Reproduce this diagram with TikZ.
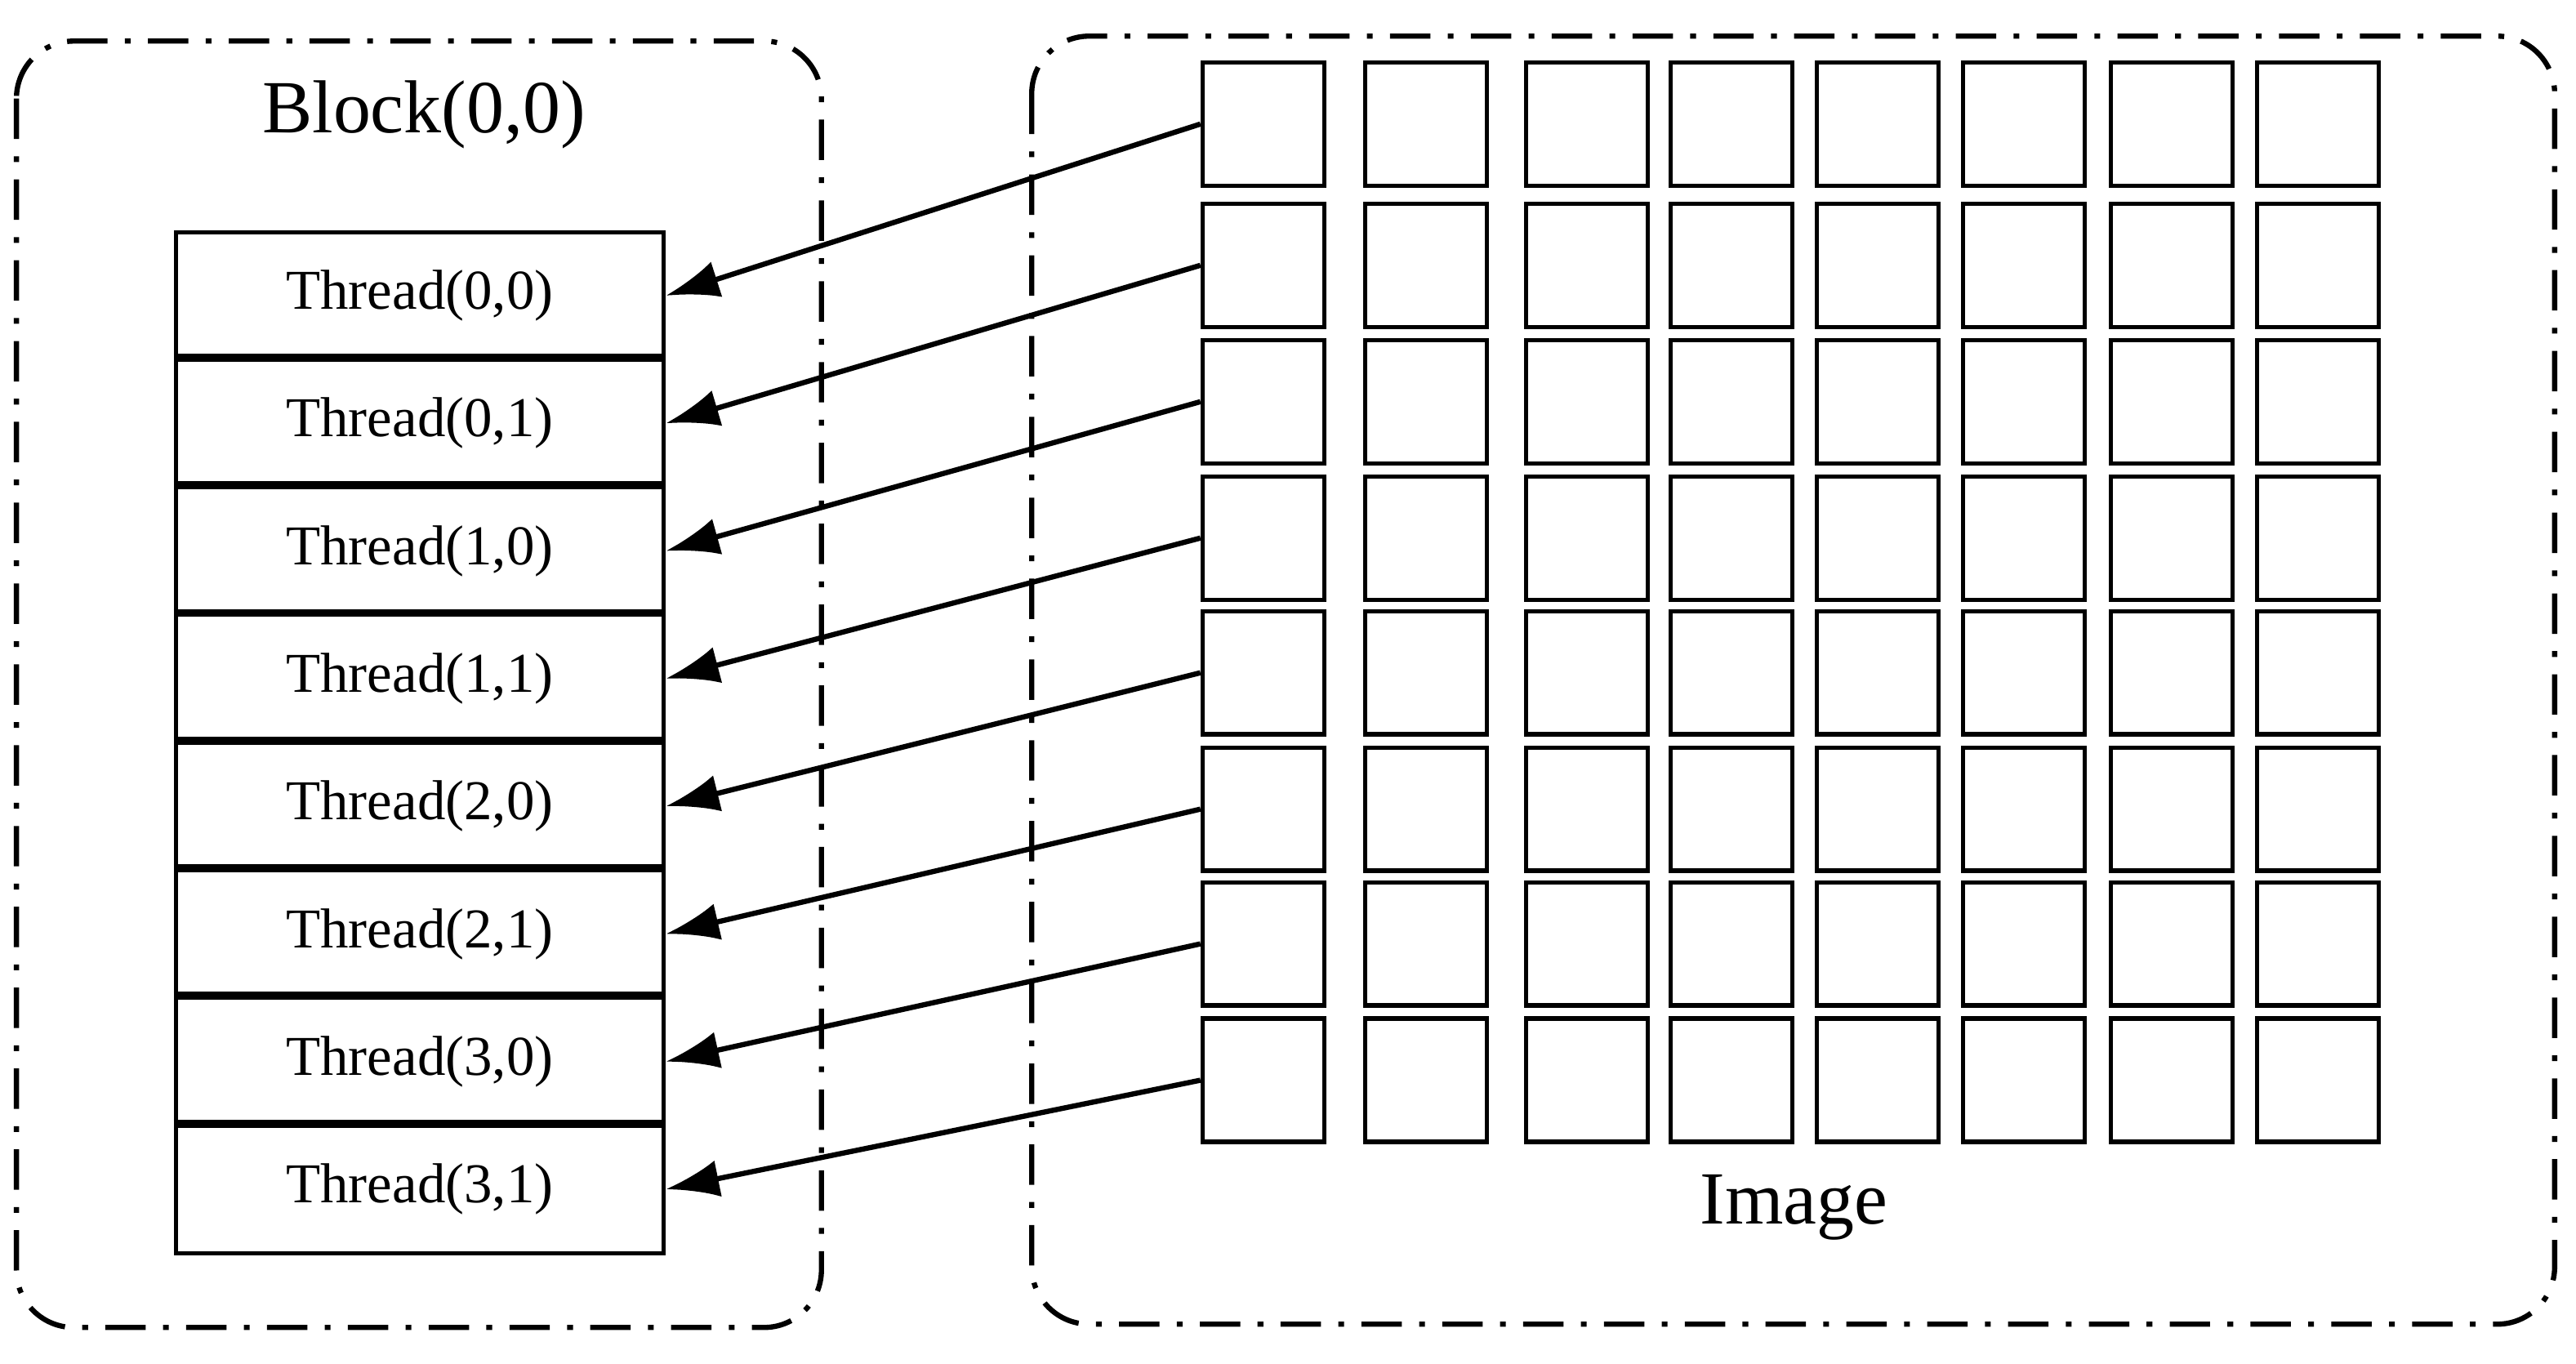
\documentclass[tikz,border=0pt]{standalone}
\usepackage{fontspec}
\setmainfont{Liberation Serif}
\usetikzlibrary{arrows.meta}
\begin{document}
\begin{tikzpicture}[x=0.02cm,y=-0.02cm,
  frame/.style={line width=1.8pt,rounded corners=0.7cm,dash pattern=on 14pt off 6pt on 2pt off 6pt},
  thr/.style={draw,line width=1.4pt,minimum width=5.94cm,minimum height=1.55cm,inner sep=0pt,font=\fontsize{19.5}{22}\selectfont},
  px/.style={draw,line width=1.5pt,minimum width=1.48cm,minimum height=1.5cm,inner sep=0pt},
  arr/.style={line width=1.8pt,-{Latex[length=0.65cm,width=0.45cm]}}]
\useasboundingbox (0,0) rectangle (1568,830);
\draw[frame] (10,25) rectangle (500,808);
\draw[frame] (628,22) rectangle (1555,806);
\node[font=\fontsize{26}{30}\selectfont] (blk) at (258,70) {Block(0,0)};
\node[font=\fontsize{26}{30}\selectfont] (img) at (1092,735) {Image};
\foreach \i/\t in {0/{(0,0)},1/{(0,1)},2/{(1,0)},3/{(1,1)},4/{(2,0)},5/{(2,1)},6/{(3,0)},7/{(3,1)}}{
  \node[thr] (t\i) at (255.5,{180+77.7*\i}) {Thread\t};
}
\foreach \i in {1,...,7}{
  \draw[line width=2.8pt] (t\i.north west) -- (t\i.north east);
}
\foreach \c/\x in {0/732,1/831,2/929,3/1017,4/1106,5/1195,6/1285,7/1374}{
  \foreach \r/\y in {0/38,1/124,2/207,3/290,4/372,5/455,6/537,7/620}{
    \node[px] (p\c-\r) at ({\x+37},{\y+37.5}) {};
  }
}
\foreach \i in {0,...,7}{
  \draw[arr] (p0-\i.west) -- (t\i.east);
}
\end{tikzpicture}
\end{document}
